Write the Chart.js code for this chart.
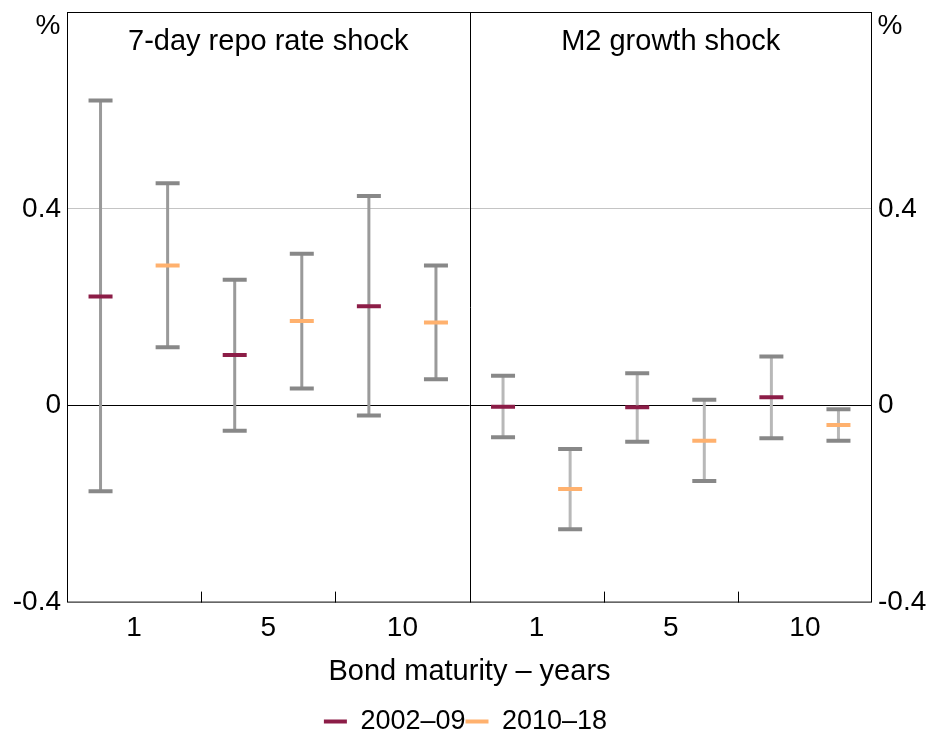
<!doctype html>
<html lang="en">
<head>
  <meta charset="utf-8">
  <title>bond yield responses</title>
  <style>
    body { margin: 0; background: #fff; }
    #wrap { width: 931px; height: 734px; }
  </style>
</head>
<body>
  <div id="wrap"><canvas id="chart"></canvas></div>

  <script src="https://cdn.jsdelivr.net/npm/chart.js@4/dist/chart.umd.min.js"></script>
  <script>
  const panels = ['7-day repo rate shock', 'M2 growth shock'];
  const maturities = ['1', '5', '10'];
  const periods = ['2002–09', '2010–18'];
  const yTicks = [-0.4, 0, 0.4];

  // estimates per maturity (1, 5, 10 years)
  const repoEarly     = [0.222, 0.103, 0.202];
  const repoEarlyLow  = [-0.174, -0.051, -0.020];
  const repoEarlyHigh = [0.620, 0.256, 0.426];
  const repoLate      = [0.285, 0.172, 0.169];
  const repoLateLow   = [0.119, 0.035, 0.054];
  const repoLateHigh  = [0.452, 0.309, 0.285];

  const m2Early     = [-0.002, -0.003, 0.017];
  const m2EarlyLow  = [-0.064, -0.073, -0.066];
  const m2EarlyHigh = [0.061, 0.066, 0.100];
  const m2Late      = [-0.169, -0.071, -0.039];
  const m2LateLow   = [-0.251, -0.153, -0.071];
  const m2LateHigh  = [-0.088, 0.012, -0.007];

  const colors = ['#8c1d47', '#ffb16e'];
  const font = 'Arial, "Liberation Sans"';

  // x position of a bar: panel, maturity, period
  function slot(p, m, k) {
    return p * 6 + m * 2 + k + 0.5;
  }

  const series = [
    [[repoEarly, repoEarlyLow, repoEarlyHigh], [repoLate, repoLateLow, repoLateHigh]],
    [[m2Early, m2EarlyLow, m2EarlyHigh], [m2Late, m2LateLow, m2LateHigh]]
  ];

  function stems(p) {
    let pts = [];
    series[p].forEach((s, k) => {
      maturities.forEach((m, i) => {
        let x = slot(p, i, k);
        pts.push({x: x, y: s[1][i]}, {x: x, y: s[2][i]}, {x: x, y: null});
      });
    });
    return pts;
  }

  function caps() {
    let pts = [];
    series.forEach((ps, p) => ps.forEach((s, k) => maturities.forEach((m, i) => {
      let x = slot(p, i, k);
      pts.push({x: x, y: s[1][i]}, {x: x, y: s[2][i]});
    })));
    return pts;
  }

  function centres(k) {
    let pts = [];
    series.forEach((ps, p) => maturities.forEach((m, i) => {
      pts.push({x: slot(p, i, k), y: ps[k][0][i]});
    }));
    return pts;
  }

  let datasets = periods.map((label, k) => ({
    type: 'scatter',
    label: label,
    data: centres(k),
    pointStyle: 'line',
    pointRadius: 12,
    pointBorderWidth: 4,
    borderWidth: 4,
    borderColor: colors[k],
    backgroundColor: colors[k],
    order: 0
  }));
  datasets.push({
    type: 'scatter', label: 'caps', data: caps(),
    pointStyle: 'line', pointRadius: 12, pointBorderWidth: 4,
    borderColor: '#888888', order: 1
  });
  ['#9a9a9a', '#b8b8b8'].forEach((c, p) => datasets.push({
    type: 'line', label: 'stem' + p, data: stems(p),
    borderColor: c, borderWidth: 3, pointRadius: 0, spanGaps: false, order: 2
  }));

  const frame = {
    id: 'frame',
    afterDatasetsDraw(chart) {
      let ctx = chart.ctx, a = chart.chartArea, xs = chart.scales.x;
      ctx.save();
      ctx.strokeStyle = '#000';
      ctx.lineWidth = 1;
      ctx.strokeRect(a.left + 0.5, a.top + 0.5, a.width - 1, a.height - 1);
      ctx.beginPath();
      let mid = Math.round(xs.getPixelForValue(6)) + 0.5;
      ctx.moveTo(mid, a.top); ctx.lineTo(mid, a.bottom);
      [2, 4, 8, 10].forEach(v => {
        let px = Math.round(xs.getPixelForValue(v)) + 0.5;
        ctx.moveTo(px, a.bottom); ctx.lineTo(px, a.bottom - 11);
      });
      ctx.stroke();
      ctx.fillStyle = '#000';
      ctx.textAlign = 'center';
      ctx.textBaseline = 'middle';
      ctx.font = '29px ' + font;
      panels.forEach((t, p) => ctx.fillText(t, xs.getPixelForValue(p * 6 + 3), a.top + 30));
      ctx.font = '28px ' + font;
      ctx.fillText('%', a.left - 19, a.top + 14);
      ctx.fillText('%', a.right + 18, a.top + 14);
      ctx.restore();
    }
  };

  const yAxis = (pos, w) => ({
    type: 'linear',
    position: pos,
    min: -0.4,
    max: 0.8,
    afterBuildTicks: s => { s.ticks = yTicks.map(v => ({value: v})); },
    afterFit: s => { s.width = w; s.paddingTop = 0; s.paddingBottom = 0; },
    border: {display: false},
    grid: {
      display: pos === 'left',
      drawTicks: false,
      color: c => c.tick && c.tick.value === 0 ? '#000' : (c.tick && c.tick.value === 0.4 ? '#c4c4c4' : 'rgba(0,0,0,0)')
    },
    ticks: {
      color: '#000',
      font: {size: 28, family: font},
      padding: 6,
      callback: v => v === 0 ? '0' : v.toFixed(1)
    }
  });

  Chart.defaults.font.family = font;
  Chart.defaults.color = '#000';

  new Chart(document.getElementById('chart'), {
    type: 'scatter',
    data: {datasets: datasets},
    plugins: [frame],
    options: {
      responsive: true,
      maintainAspectRatio: false,
      animation: false,
      events: [],
      layout: {autoPadding: false, padding: {top: 12, bottom: 0}},
      plugins: {
        tooltip: {enabled: false},
        legend: {
          position: 'bottom',
          maxHeight: 26,
          labels: {
            filter: item => periods.includes(item.text),
            usePointStyle: true,
            pointStyleWidth: 23,
            font: {size: 27, lineHeight: 1},
            color: '#000',
            padding: 0
          }
        }
      },
      scales: {
        x: {
          type: 'linear',
          min: 0,
          max: 12,
          afterBuildTicks: s => { s.ticks = [1, 3, 5, 7, 9, 11].map(v => ({value: v})); },
          grid: {display: false, drawTicks: false},
          border: {display: false},
          ticks: {
            font: {size: 28},
            color: '#000',
            padding: 9,
            maxRotation: 0,
            autoSkip: false,
            callback: v => maturities[((v - 1) / 2) % 3]
          },
          title: {
            display: true,
            text: 'Bond maturity – years',
            font: {size: 29},
            color: '#000',
            padding: {top: 0, bottom: 19}
          }
        },
        y: yAxis('left', 67),
        y2: yAxis('right', 59)
      }
    }
  });
  </script>
</body>
</html>
